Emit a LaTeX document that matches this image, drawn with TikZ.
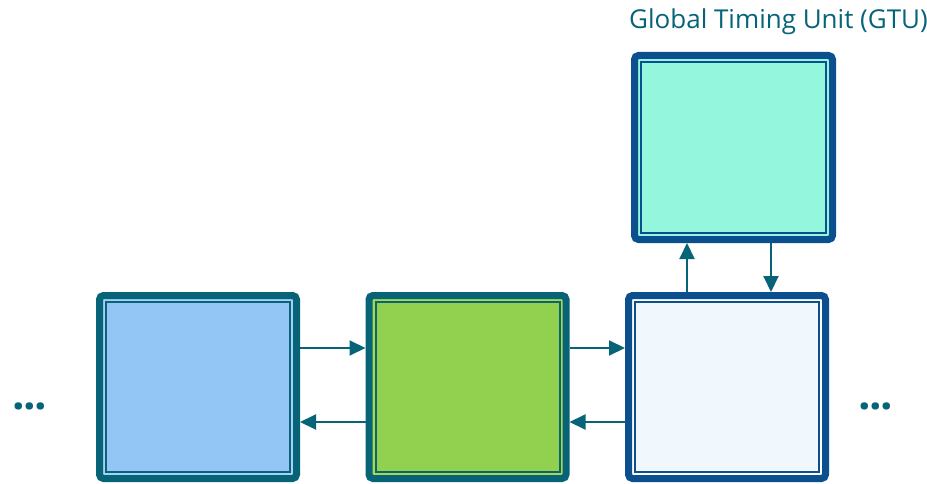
\documentclass[tikz,border=0pt]{standalone}
\usepackage{fontspec}
\setmainfont{Open Sans}
\usetikzlibrary{arrows.meta}
\definecolor{teal}{HTML}{066378}
\definecolor{navy}{HTML}{0B4F8F}
\definecolor{skyfill}{HTML}{93C6F4}
\definecolor{skygap}{HTML}{A6D0F5}
\definecolor{leaf}{HTML}{92D050}
\definecolor{leafgap}{HTML}{A9D947}
\definecolor{mint}{HTML}{94F6DC}
\definecolor{paper}{HTML}{F1F8FD}
\tikzset{
  unit/.style n args={3}{draw=#1, fill=#2, line width=7pt, rounded corners=4pt,
    minimum width=197pt, minimum height=183pt, inner sep=0pt,
    path picture={\draw[#1, line width=2pt, fill=#3, sharp corners]
      ([shift={(6.5,6.5)}]path picture bounding box.south west) rectangle
      ([shift={(-6.5,-6.5)}]path picture bounding box.north east);}},
  link/.style={draw=teal, line width=2pt, -{Triangle[length=16pt,width=15pt]}},
  dots/.style={text=teal, font=\bfseries\fontsize{44}{44}\selectfont, inner sep=0pt}
}
\begin{document}
\begin{tikzpicture}[x=1pt,y=1pt]
\useasboundingbox (0,0) rectangle (927,483);
% processing units in a row
\node[unit={teal}{skygap}{skyfill}] (p1) at (198,96) {};
\node[unit={teal}{leafgap}{leaf}] (p2) at (467.5,96) {};
\node[unit={navy}{white}{paper}] (p3) at (727,96) {};
% timing unit above the third unit
\node[unit={navy}{mint}{mint}, minimum width=198pt, minimum height=184pt] (gtu) at (733.5,335.5) {};
\node[anchor=base west, text=teal, font=\fontsize{26}{26}\selectfont, inner sep=0pt] (title) at (629,454) {Global Timing Unit (GTU)};
% horizontal links
\draw[link] ([yshift=39pt]p1.east) -- ([yshift=39pt]p2.west);
\draw[link] ([yshift=-35pt]p2.west) -- ([yshift=-35pt]p1.east);
\draw[link] ([yshift=39pt]p2.east) -- ([yshift=39pt]p3.west);
\draw[link] ([yshift=-35pt]p3.west) -- ([yshift=-35pt]p2.east);
% vertical links
\draw[link] ([xshift=-40pt]p3.north) -- ([xshift=-40pt]p3.north |- gtu.south);
\draw[link] ([xshift=44pt]p3.north |- gtu.south) -- ([xshift=44pt]p3.north);
% continuation marks
\node[dots] (more-left) at (30,77) {.\kern-1.5pt.\kern-1.5pt.};
\node[dots] (more-right) at (876,77) {.\kern-1.5pt.\kern-1.5pt.};
\end{tikzpicture}
\end{document}
